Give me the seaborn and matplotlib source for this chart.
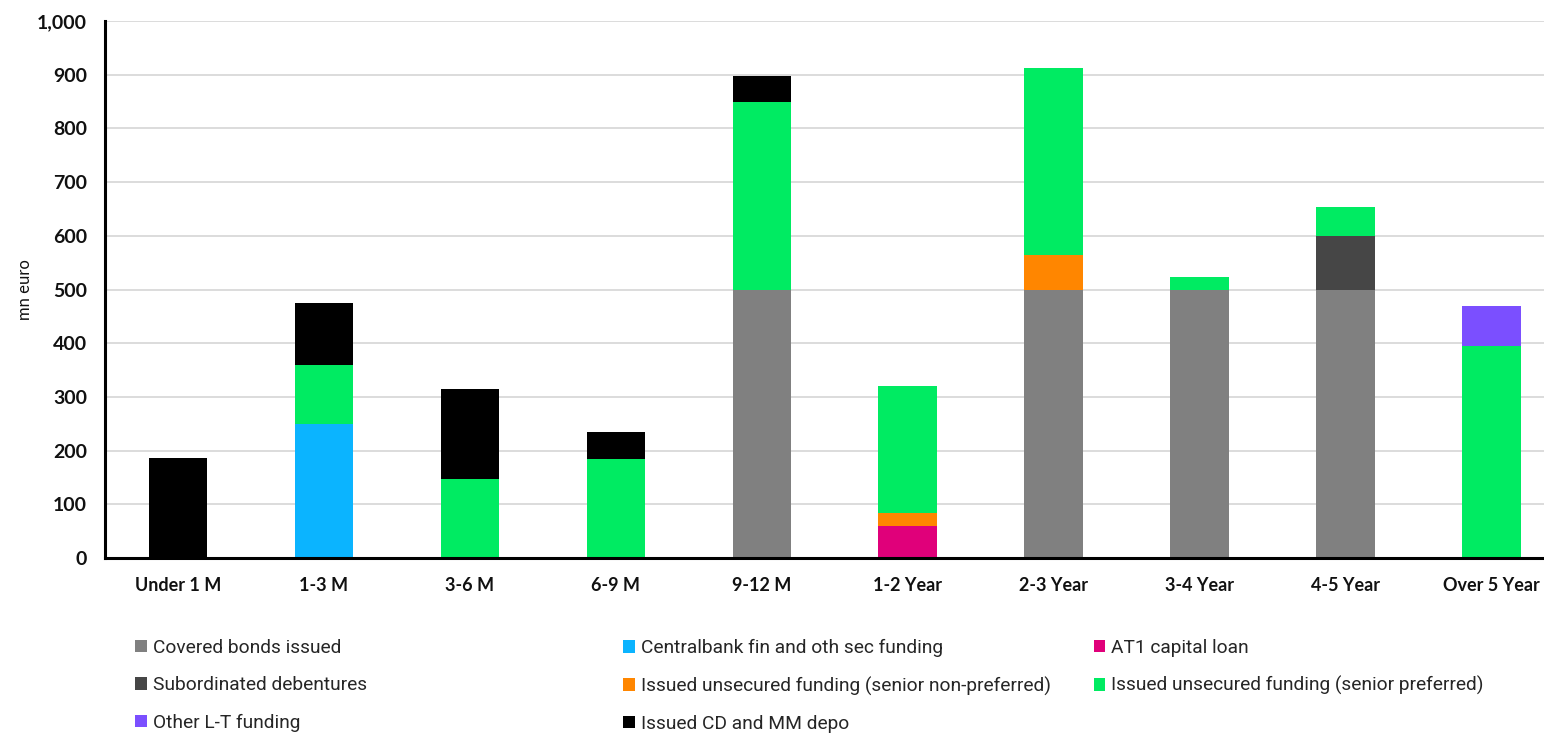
import numpy as np
import pandas as pd
import matplotlib
matplotlib.use("Agg")
import matplotlib.pyplot as plt
from matplotlib.patches import Patch
from matplotlib.ticker import FuncFormatter
import seaborn as sns

# Maturity buckets
buckets = ["Under 1 M", "1-3 M", "3-6 M", "6-9 M", "9-12 M",
           "1-2 Year", "2-3 Year", "3-4 Year", "4-5 Year", "Over 5 Year"]

# Funding by type, mn euro (stacked bottom to top in this order)
covered_bonds   = [0,   0,   0,   0,   500, 0,   500, 500, 500, 0]
centralbank     = [0,   250, 0,   0,   0,   0,   0,   0,   0,   0]
at1_capital     = [0,   0,   0,   0,   0,   60,  0,   0,   0,   0]
subordinated    = [0,   0,   0,   0,   0,   0,   0,   0,   100, 0]
senior_non_pref = [0,   0,   0,   0,   0,   24,  64,  0,   0,   0]
senior_pref     = [0,   109, 147, 184, 349, 237, 348, 23,  53,  395]
other_lt        = [0,   0,   0,   0,   0,   0,   0,   0,   0,   74]
cd_mm_depo      = [186, 116, 168, 51,  49,  0,   0,   0,   0,   0]

series = [
    ("Covered bonds issued", covered_bonds, "#808080"),
    ("Centralbank fin and oth sec funding", centralbank, "#0BB4FF"),
    ("AT1 capital loan", at1_capital, "#E0007A"),
    ("Subordinated debentures", subordinated, "#464646"),
    ("Issued unsecured funding (senior non-preferred)", senior_non_pref, "#FF8600"),
    ("Issued unsecured funding (senior preferred)", senior_pref, "#00EB62"),
    ("Other L-T funding", other_lt, "#7B4FFF"),
    ("Issued CD and MM depo", cd_mm_depo, "#000000"),
]

sns.set_theme(style="white")
plt.rcParams["font.family"] = ["Lato", "DejaVu Sans"]

fig = plt.figure(figsize=(15.44, 7.35), dpi=100)
ax = fig.add_axes([0.068, 0.2408, 0.932, 0.7306])

# Stacked bars: draw cumulative totals from the top series down
cum = np.cumsum(np.array([s[1] for s in series], dtype=float), axis=0)
for i in range(len(series) - 1, -1, -1):
    df = pd.DataFrame({"bucket": buckets, "value": cum[i]})
    sns.barplot(data=df, x="bucket", y="value", order=buckets,
                color=series[i][2], saturation=1, width=0.4,
                linewidth=0, ax=ax, zorder=3)

ax.set_ylim(0, 1000)
ax.set_yticks(np.arange(0, 1001, 100))
ax.yaxis.set_major_formatter(FuncFormatter(lambda v, p: f"{int(v):,}"))
ax.set_xlim(-0.5, 9.36)
ax.grid(axis="y", color="#d9d9d9", linewidth=1.3, zorder=0)
ax.set_axisbelow(True)

for s in ["top", "right"]:
    ax.spines[s].set_visible(False)
for s in ["left", "bottom"]:
    ax.spines[s].set_color("black")
    ax.spines[s].set_linewidth(2.2)
    ax.spines[s].set_zorder(5)

ax.tick_params(axis="both", length=0, colors="#111111")
ax.tick_params(axis="y", pad=13)
ax.tick_params(axis="x", pad=14)
for lab in ax.get_yticklabels():
    lab.set_fontsize(14)
    lab.set_fontweight("bold")
for lab in ax.get_xticklabels():
    lab.set_fontsize(13)
    lab.set_fontweight("bold")

ax.set_xlabel("")
ax.set_ylabel("mn euro", fontsize=12, color="#111111", labelpad=3)

# Legend in three columns, filled row by row
handles = {name: Patch(facecolor=c, edgecolor="none") for name, _, c in series}
columns = [
    ["Covered bonds issued", "Subordinated debentures", "Other L-T funding"],
    ["Centralbank fin and oth sec funding",
     "Issued unsecured funding (senior non-preferred)", "Issued CD and MM depo"],
    ["AT1 capital loan", "Issued unsecured funding (senior preferred)"],
]
col_x = [0.0815, 0.3975, 0.7022]
for names, x in zip(columns, col_x):
    fig.legend([handles[n] for n in names], names, loc="upper left",
               bbox_to_anchor=(x, 0.1435), bbox_transform=fig.transFigure,
               frameon=False, handlelength=0.6, handleheight=0.6,
               handletextpad=0.3, labelspacing=1.0, borderpad=0,
               prop={"family": ["Liberation Sans Narrow", "Roboto"], "size": 13.8})

fig.savefig("out.png", dpi=100)
